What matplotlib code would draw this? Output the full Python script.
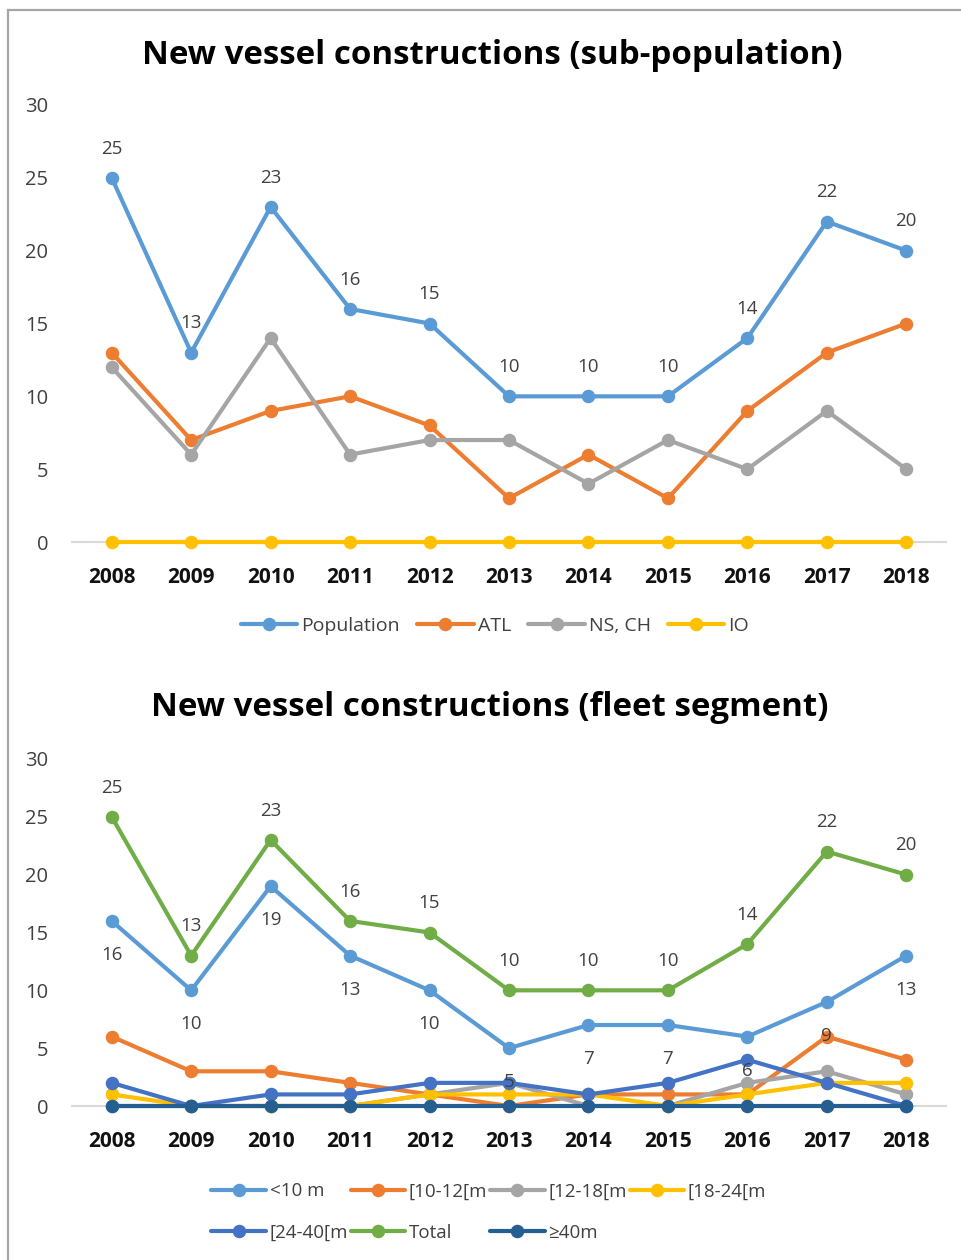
import matplotlib
matplotlib.use("Agg")
import matplotlib.pyplot as plt
from matplotlib.lines import Line2D

# ---- data ----
years = ["2008", "2009", "2010", "2011", "2012", "2013", "2014", "2015", "2016", "2017", "2018"]

population = [25, 13, 23, 16, 15, 10, 10, 10, 14, 22, 20]
atl = [13, 7, 9, 10, 8, 3, 6, 3, 9, 13, 15]
ns_ch = [12, 6, 14, 6, 7, 7, 4, 7, 5, 9, 5]
io = [0, 0, 0, 0, 0, 0, 0, 0, 0, 0, 0]

lt10 = [16, 10, 19, 13, 10, 5, 7, 7, 6, 9, 13]
s10_12 = [6, 3, 3, 2, 1, 0, 1, 1, 1, 6, 4]
s12_18 = [0, 0, 0, 0, 1, 2, 0, 0, 2, 3, 1]
s18_24 = [1, 0, 0, 0, 1, 1, 1, 0, 1, 2, 2]
s24_40 = [2, 0, 1, 1, 2, 2, 1, 2, 4, 2, 0]
total = [25, 13, 23, 16, 15, 10, 10, 10, 14, 22, 20]
ge40 = [0, 0, 0, 0, 0, 0, 0, 0, 0, 0, 0]

BLUE = "#5B9BD5"
ORANGE = "#ED7D31"
GREY = "#A5A5A5"
GOLD = "#FFC000"
DBLUE = "#4472C4"
GREEN = "#70AD47"
NAVY = "#255E91"

FONT = ["Open Sans", "DejaVu Sans"]
plt.rcParams["font.family"] = FONT

W, H = 961, 1260
fig = plt.figure(figsize=(W / 100, H / 100), dpi=100)

# outer frame (left and top edges)
fig.add_artist(Line2D([8 / W, 8 / W], [0, 1 - 10 / H], color="#A6A6A6", lw=1.6))
fig.add_artist(Line2D([8 / W, 1], [1 - 10 / H, 1 - 10 / H], color="#A6A6A6", lw=1.6))

LW = 3.0
MS = 8.7
x = list(range(len(years)))


def style_axes(ax, ymax, step):
    ax.set_xlim(-0.5, len(years) - 0.5)
    ax.set_ylim(0, ymax)
    ax.set_yticks(range(0, ymax + 1, step))
    ax.set_xticks(x)
    ax.set_xticklabels(years, fontsize=15, fontweight="bold", color="#111111")
    ax.tick_params(axis="y", labelsize=14.5, labelcolor="#404040", length=0, pad=17)
    ax.tick_params(axis="x", length=0, pad=18)
    for side in ("top", "right", "left"):
        ax.spines[side].set_visible(False)
    ax.spines["bottom"].set_color("#D9D9D9")
    ax.spines["bottom"].set_linewidth(1.5)
    ax.spines["bottom"].set_zorder(0)
    ax.set_facecolor("none")


def label_points(ax, values, dy):
    for xi, v in zip(x, values):
        ax.annotate(str(v), (xi, v), xytext=(0, dy), textcoords="offset points",
                    ha="center", va="center", fontsize=13.5, color="#404040",
                    zorder=20)


# ---- top chart: sub-population ----
ax1 = fig.add_axes([72 / W, 1 - 542 / H, (946 - 72) / W, (542 - 105) / H])
style_axes(ax1, 30, 5)
top_series = [(population, BLUE, "Population"), (atl, ORANGE, "ATL"),
              (ns_ch, GREY, "NS, CH"), (io, GOLD, "IO")]
for vals, col, name in top_series:
    ax1.plot(x, vals, color=col, lw=LW, marker="o", ms=MS, label=name,
             solid_capstyle="round", clip_on=False)
label_points(ax1, population, 21)
fig.text(492 / W, 1 - 56 / H, "New vessel constructions (sub-population)",
         ha="center", va="center", fontsize=23.8, fontweight="bold", color="#000000")
leg1 = fig.legend(*ax1.get_legend_handles_labels(), loc="center",
                  bbox_to_anchor=(495 / W, 1 - 626 / H), ncol=4, frameon=False,
                  fontsize=14, handlelength=2.9, handletextpad=0.2,
                  columnspacing=0.9, labelcolor="#404040")

# ---- bottom chart: fleet segment ----
ax2 = fig.add_axes([72 / W, 1 - 1106 / H, (946 - 72) / W, (1106 - 759) / H])
style_axes(ax2, 30, 5)
bottom_series = [(lt10, BLUE, "<10 m"), (s10_12, ORANGE, "[10-12[m"),
                 (s12_18, GREY, "[12-18[m"), (s18_24, GOLD, "[18-24[m"),
                 (s24_40, DBLUE, "[24-40[m"), (total, GREEN, "Total"),
                 (ge40, NAVY, "\u226540m")]
handles = {}
for vals, col, name in bottom_series:
    ln, = ax2.plot(x, vals, color=col, lw=LW, marker="o", ms=MS, label=name,
                   solid_capstyle="round", clip_on=False)
    handles[name] = ln
label_points(ax2, total, 21)
label_points(ax2, lt10, -24.5)
fig.text(490 / W, 1 - 708 / H, "New vessel constructions (fleet segment)",
         ha="center", va="center", fontsize=23.8, fontweight="bold", color="#000000")

# legend filled column-wise, so order entries to read row by row
order = ["<10 m", "[24-40[m", "[10-12[m", "Total", "[12-18[m", "\u226540m", "[18-24[m"]
leg2 = fig.legend([handles[n] for n in order], order, loc="center left",
                  bbox_to_anchor=(202 / W, 1 - 1212 / H), ncol=4, frameon=False,
                  fontsize=13.5, handlelength=2.9, handletextpad=0.2,
                  columnspacing=0.15, labelspacing=1.25, labelcolor="#404040",
                  borderpad=0)

fig.savefig("out.png", dpi=100, facecolor="white")
